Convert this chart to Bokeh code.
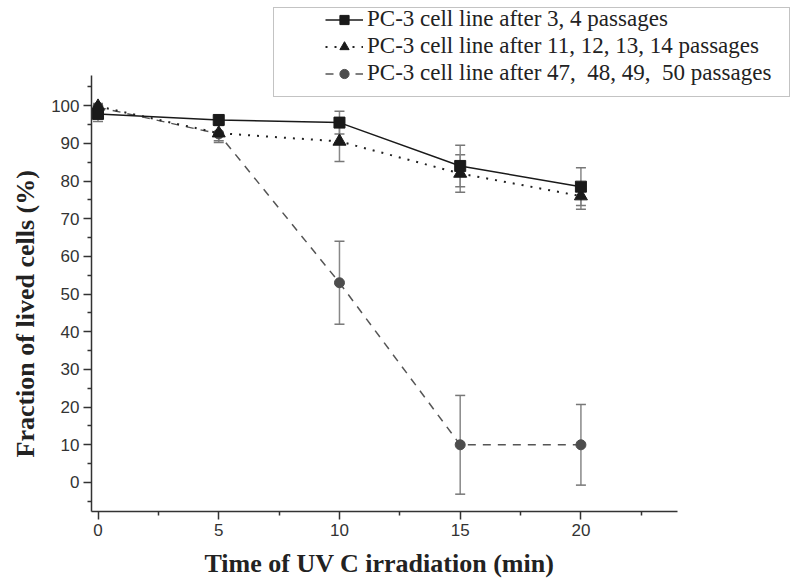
from bokeh.plotting import figure
from bokeh.models import (ColumnDataSource, Whisker, TeeHead, Range1d, FixedTicker,
                          Legend, LegendItem, Title)
from bokeh.embed import file_html
from bokeh.resources import INLINE

# ---- data ----
time_min = [0, 5, 10, 15, 20]
early_vals = [97.8, 96.2, 95.5, 84.0, 78.5]
early_err = [2.0, 1.2, 3.0, 5.5, 5.0]
mid_vals = [99.8, 92.7, 90.5, 82.0, 76.0]
mid_err = [0.8, 2.0, 5.3, 5.0, 3.5]
late_vals = [99.6, 92.5, 53.0, 10.0, 10.0]
late_err = [0.6, 2.3, 11.0, 13.1, 10.7]
labels = ["PC-3 cell line after 3, 4 passages",
          "PC-3 cell line after 11, 12, 13, 14 passages",
          "PC-3 cell line after 47,  48, 49,  50 passages"]
x_title = "Time of UV C irradiation (min)"
y_title = "Fraction of lived cells (%)"
x_ticks = [0, 5, 10, 15, 20]
x_minor = [2.5, 7.5, 12.5, 17.5, 22.5]
y_ticks = [0, 10, 20, 30, 40, 50, 60, 70, 80, 90, 100]
y_minor = [-5, 5, 15, 25, 35, 45, 55, 65, 75, 85, 95, 105]
x_axis_span = (-0.27, 24.0)
y_axis_span = (-7.7, 108.0)

# frame extends to the top/right canvas edges so the legend is not clipped;
# the axis lines are limited with bounds.
px_per_x = 586 / (x_axis_span[1] - x_axis_span[0])
px_per_y = 436 / (y_axis_span[1] - y_axis_span[0])
frame_w = 700
frame_h = 511

p = figure(frame_width=frame_w, frame_height=frame_h, output_backend="svg",
           toolbar_location=None,
           x_range=Range1d(x_axis_span[0], x_axis_span[0] + frame_w / px_per_x),
           y_range=Range1d(y_axis_span[0], y_axis_span[0] + frame_h / px_per_y),
           min_border_left=91, min_border_right=0, min_border_top=0,
           min_border_bottom=74)
p.outline_line_color = None
p.xgrid.visible = False
p.ygrid.visible = False
p.background_fill_color = "white"
p.border_fill_color = "white"

for ax in (p.xaxis[0], p.yaxis[0]):
    ax.axis_line_color = "#333333"
    ax.axis_line_width = 1.5
    ax.major_tick_line_color = "#333333"
    ax.minor_tick_line_color = "#333333"
    ax.major_tick_line_width = 1.5
    ax.minor_tick_line_width = 1.5
    ax.major_tick_out = 8
    ax.major_tick_in = 0
    ax.minor_tick_out = 4
    ax.minor_tick_in = 0
    ax.major_label_text_font = "Liberation Sans"
    ax.major_label_text_font_size = "17px"
    ax.major_label_text_color = "#333333"
    ax.major_label_standoff = 4

p.xaxis[0].bounds = x_axis_span
p.yaxis[0].bounds = y_axis_span
p.xaxis[0].ticker = FixedTicker(ticks=x_ticks, minor_ticks=x_minor)
p.yaxis[0].ticker = FixedTicker(ticks=y_ticks, minor_ticks=y_minor)

# axis titles as Titles so they can be positioned along the short axis span
p.add_layout(Title(text=x_title, align="left", offset=113, standoff=16,
                   text_font="Liberation Serif", text_font_style="bold",
                   text_font_size="26px", text_color="#222222"), "below")
p.add_layout(Title(text=y_title, align="left", offset=54, standoff=17,
                   text_font="Liberation Serif", text_font_style="bold",
                   text_font_size="26px", text_color="#222222"), "left")

def add_errors(vals, errs):
    src = ColumnDataSource(dict(x=time_min,
                                upper=[v + e for v, e in zip(vals, errs)],
                                lower=[v - e for v, e in zip(vals, errs)]))
    w = Whisker(source=src, base="x", upper="upper", lower="lower",
                line_color="#888888", line_width=1.5, level="underlay",
                upper_head=TeeHead(size=10, line_color="#777777", line_width=1.5),
                lower_head=TeeHead(size=10, line_color="#777777", line_width=1.5))
    p.add_layout(w)

add_errors(late_vals, late_err)
add_errors(mid_vals, mid_err)
add_errors(early_vals, early_err)

l3 = p.line(time_min, late_vals, line_color="#555555", line_width=1.5, line_dash="8 7")
s3 = p.scatter(time_min, late_vals, marker="circle", size=10,
               fill_color="#4d4d4d", line_color="#4d4d4d")
l2 = p.line(time_min, mid_vals, line_color="#222222", line_width=2, line_dash="2 7")
s2 = p.scatter(time_min, mid_vals, marker="triangle", size=13,
               fill_color="#1a1a1a", line_color="#1a1a1a")
l1 = p.line(time_min, early_vals, line_color="#1a1a1a", line_width=1.5)
s1 = p.scatter(time_min, early_vals, marker="square", size=11,
               fill_color="#1a1a1a", line_color="#1a1a1a")

# legend frame (box only)
dummy = p.scatter([], [], marker="square", size=1, alpha=0)
box = Legend(items=[LegendItem(label=" ", renderers=[dummy])],
             location=(182, 414), padding=0, margin=0, spacing=0,
             glyph_width=515, glyph_height=88, label_width=0, label_height=88,
             label_standoff=0, label_text_font_size="1px",
             border_line_color="#888888", border_line_width=1.2,
             background_fill_color="white", background_fill_alpha=1)
p.add_layout(box, "center")

leg = Legend(items=[LegendItem(label=labels[0], renderers=[l1, s1]),
                    LegendItem(label=labels[1], renderers=[l2, s2]),
                    LegendItem(label=labels[2], renderers=[l3, s3])],
             location=(234, 425), padding=0, margin=0, spacing=1,
             glyph_width=38, glyph_height=23, label_height=23, label_standoff=4,
             label_text_font="Liberation Serif", label_text_font_size="23px",
             label_text_color="#222222",
             border_line_alpha=0, background_fill_alpha=0)
p.add_layout(leg, "center")

open("out.html", "w").write(file_html(p, INLINE))
